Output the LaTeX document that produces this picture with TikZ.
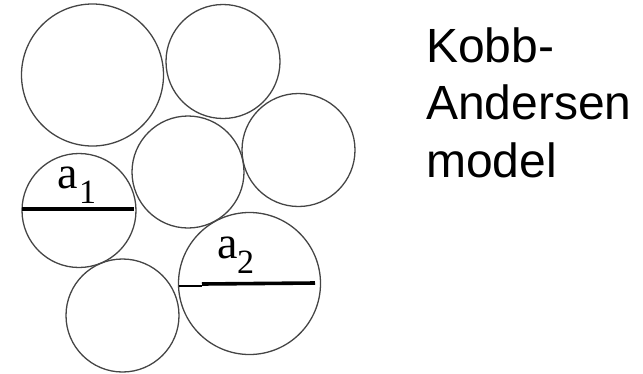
\documentclass[tikz,border=0pt]{standalone}
\usepackage{fontspec}
\setmainfont{Liberation Serif}
\newfontfamily\arialfont{Liberation Sans}
\definecolor{ring}{HTML}{454545}
\begin{document}
\begin{tikzpicture}[x=1pt,y=-1pt,
  ball/.style={draw=ring,line width=1.3pt},
  diam/.style={draw=black,line width=3.6pt},
  thindiam/.style={draw=black,line width=1.6pt},
  bigtxt/.style={inner sep=0pt,anchor=base west,font=\arialfont\fontsize{48}{56}\selectfont},
  letter/.style={inner sep=0pt,anchor=base west,font=\fontsize{46}{46}\selectfont},
  subs/.style={inner sep=0pt,anchor=base west,font=\fontsize{34}{34}\selectfont}]
\useasboundingbox (0,0) rectangle (643,373);
\draw[ball] (92.5,75) circle (71);
\draw[ball] (223,61.5) circle (57);
\draw[ball] (188,172) circle (56);
\draw[ball] (298.5,150) circle (56.5);
\draw[ball] (79,210.5) circle (57);
\draw[ball] (122.5,315.5) circle (56.5);
\draw[ball] (249.5,283.5) circle (71);
\coordinate (d1l) at (22,209);
\coordinate (d1r) at (134,209);
\coordinate (d2l) at (178.5,286);
\coordinate (d2m) at (202,286);
\coordinate (d2k) at (202,284);
\coordinate (d2r) at (315,283);
\draw[diam] (d1l) -- (d1r);
\draw[thindiam] (d2l) -- (d2m);
\draw[diam] (d2k) -- (d2r);
\node[letter] (a1) at (57.5,188) {a};
\node[subs] (s1) at (79,203) {1};
\node[letter] (a2) at (217.5,258) {a};
\node[subs] (s2) at (237,273) {2};
\node[bigtxt] (t1) at (426,62) {Kobb-};
\node[bigtxt] (t2) at (426,119.5) {Andersen};
\node[bigtxt] (t3) at (426,177) {model};
\end{tikzpicture}
\end{document}
